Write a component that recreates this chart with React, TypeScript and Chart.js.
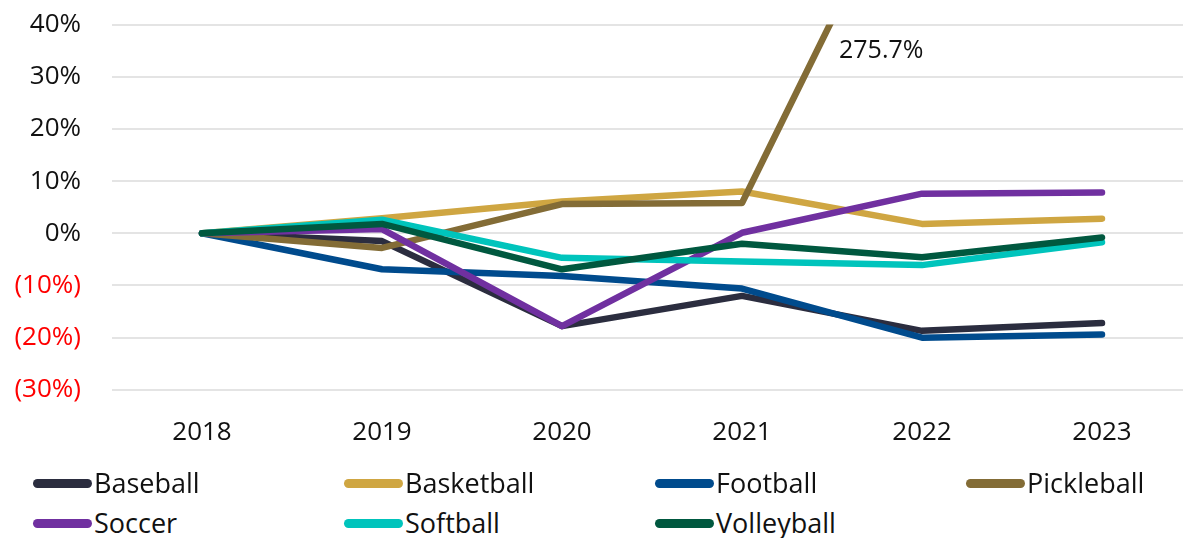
import React, { useEffect, useRef } from "react";
import { Chart, registerables } from "chart.js";

Chart.register(...registerables);

const years = ["2018", "2019", "2020", "2021", "2022", "2023"];
const baseball = [0, -1.5, -17.8, -12.0, -18.7, -17.2];
const basketball = [0, 2.9, 6.1, 8.0, 1.8, 2.8];
const football = [0, -6.9, -8.2, -10.6, -20.0, -19.4];
const pickleball = [0, -2.8, 5.6, 5.8, 75.9, 275.7];
const soccer = [0, 0.8, -17.8, 0.1, 7.6, 7.8];
const softball = [0, 2.6, -4.7, -5.4, -6.1, -1.7];
const volleyball = [0, 1.8, -6.9, -2.0, -4.6, -0.8];

const seriesNames = ["Baseball", "Basketball", "Football", "Pickleball", "Soccer", "Softball", "Volleyball"];
const seriesValues = [baseball, basketball, football, pickleball, soccer, softball, volleyball];
const seriesColors = ["#2b2d3f", "#cfa642", "#004b8d", "#836c36", "#7030a0", "#00c4bc", "#00583f"];

const yMin = -30;
const yMax = 40;
const yStep = 10;
const calloutText = "275.7%";
const calloutYValue = 35;

const FONT = "'Open Sans', sans-serif";
const FS = 26;

const calloutPlugin = {
  id: "callout",
  afterDatasetsDraw(chart: any) {
    const { ctx, scales } = chart;
    const x = scales.x.getPixelForValue(3.5) + 7;
    const y = scales.y.getPixelForValue(calloutYValue);
    ctx.save();
    ctx.font = `25px ${FONT}`;
    ctx.fillStyle = "#111";
    ctx.textAlign = "left";
    ctx.textBaseline = "middle";
    ctx.fillText(calloutText, x, y);
    ctx.restore();
  },
};

export default function App() {
  const canvasRef = useRef<HTMLCanvasElement | null>(null);

  useEffect(() => {
    if (!canvasRef.current) return;
    const chart = new Chart(canvasRef.current, {
      type: "line",
      data: {
        labels: years,
        datasets: seriesNames.map((name, i) => ({
          label: name,
          data: seriesValues[i],
          borderColor: seriesColors[i],
          backgroundColor: seriesColors[i],
          borderWidth: 6.5,
          pointRadius: 0,
          borderCapStyle: "round",
          borderJoinStyle: "round",
          tension: 0,
          fill: false,
          order: seriesNames.length - i,
          clip: 0,
        })),
      },
      options: {
        animation: false,
        responsive: true,
        maintainAspectRatio: false,
        layout: { padding: { top: 8, left: 0, right: 0, bottom: 0 } },
        plugins: {
          legend: { display: false },
          tooltip: { enabled: false },
        },
        scales: {
          x: {
            offset: true,
            grid: { display: false, drawTicks: false },
            border: { display: false },
            ticks: {
              padding: 27,
              color: "#111",
              font: { family: FONT, size: FS },
              maxRotation: 0,
            },
          },
          y: {
            min: yMin,
            max: yMax,
            grid: { color: "#e4e4e4", lineWidth: 2, drawTicks: false },
            border: { display: false },
            afterFit: (scale: any) => {
              scale.width = 112;
            },
            ticks: {
              stepSize: yStep,
              padding: 31,
              font: { family: FONT, size: FS },
              color: (ctx: any) => (ctx.tick && ctx.tick.value < 0 ? "#ff0000" : "#111"),
              callback: (v: any) => (v < 0 ? `(${-v}%)` : `${v}%`),
            },
          },
        },
      },
      plugins: [calloutPlugin],
    });
    return () => chart.destroy();
  }, []);

  return (
    <div
      style={{
        position: "absolute",
        left: 0,
        top: 0,
        width: 1183,
        height: 538,
        overflow: "hidden",
        background: "#fff",
        fontFamily: FONT,
      }}
    >
      <div style={{ position: "absolute", left: 0, top: -22, width: 1192, height: 497 }}>
        <canvas ref={canvasRef} />
      </div>
      {seriesNames.map((name, i) => {
        const col = i % 4;
        const row = Math.floor(i / 4);
        return (
          <div
            key={name}
            style={{
              position: "absolute",
              left: 33 + col * 311,
              top: 483 + row * 40 - 18,
              height: 36,
              display: "flex",
              alignItems: "center",
              whiteSpace: "nowrap",
            }}
          >
            <span
              style={{
                display: "inline-block",
                width: 59,
                height: 9,
                borderRadius: 4.5,
                background: seriesColors[i],
                marginRight: 2,
              }}
            />
            <span style={{ fontSize: 27, color: "#111", lineHeight: "36px" }}>{name}</span>
          </div>
        );
      })}
    </div>
  );
}
